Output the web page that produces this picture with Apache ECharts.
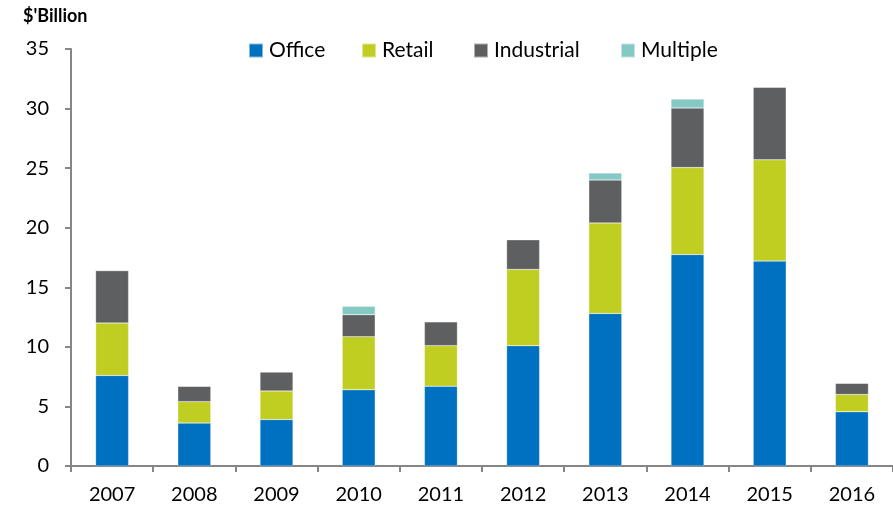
<!DOCTYPE html>
<html>
<head>
<meta charset="utf-8">
<script src="https://cdn.jsdelivr.net/npm/echarts@6/dist/echarts.min.js"></script>
<style>
  html, body { margin: 0; padding: 0; background: #fff; }
  #main { width: 893px; height: 509px; }
</style>
</head>
<body>
<div id="main"></div>
<script>
var years = ['2007', '2008', '2009', '2010', '2011', '2012', '2013', '2014', '2015', '2016'];
var office = [7.6, 3.6, 3.9, 6.4, 6.7, 10.1, 12.8, 17.75, 17.2, 4.55];
var retail = [4.4, 1.8, 2.4, 4.45, 3.4, 6.4, 7.6, 7.3, 8.5, 1.45];
var industrial = [4.4, 1.3, 1.6, 1.85, 2.0, 2.5, 3.6, 5.0, 6.1, 0.95];
var multiple = [0, 0, 0, 0.7, 0, 0, 0.6, 0.75, 0, 0];

var seriesNames = ['Office', 'Retail', 'Industrial', 'Multiple'];
var seriesColors = ['#0070C0', '#C0CD21', '#5E5F61', '#84C9C4'];

var font = 'Lato, "Liberation Sans", sans-serif';
var axisGrey = '#868686';

var chart = echarts.init(document.getElementById('main'));

function bar(name, data, color) {
  return {
    name: name,
    type: 'bar',
    stack: 'total',
    barWidth: 33,
    data: data,
    itemStyle: { color: color, borderColor: 'rgba(255,255,255,0.5)', borderWidth: 0.5 }
  };
}

// one legend per item so each sits where the reference puts it
var legendLeft = [243, 356, 468, 615];
var legends = seriesNames.map(function (n, i) {
  return {
    top: 35,
    left: legendLeft[i],
    itemWidth: 14,
    itemHeight: 14,
    itemGap: 0,
    icon: 'rect',
    textStyle: { fontFamily: font, fontSize: 21, color: '#000', padding: [0, 0, 0, 1] },
    data: [n]
  };
});

var option = {
  animation: false,
  textStyle: { fontFamily: font },
  title: {
    text: "$'Billion",
    left: 18,
    top: 2,
    textStyle: { fontFamily: font, fontSize: 18, fontWeight: 'bold', color: '#000' }
  },
  legend: legends,
  grid: { left: 71, right: -1, top: 49, bottom: 43 },
  xAxis: {
    type: 'category',
    data: years,
    boundaryGap: true,
    axisLine: { lineStyle: { color: axisGrey, width: 2 } },
    axisTick: { show: true, length: 6, lineStyle: { color: axisGrey, width: 2 } },
    axisLabel: { fontFamily: font, fontSize: 20, color: '#000', margin: 19 }
  },
  yAxis: {
    type: 'value',
    min: 0,
    max: 35,
    interval: 5,
    splitLine: { show: false },
    axisLine: { show: true, lineStyle: { color: axisGrey, width: 2 } },
    axisTick: { show: true, length: 6, lineStyle: { color: axisGrey, width: 2 } },
    axisLabel: { fontFamily: font, fontSize: 20, color: '#000', margin: 22 }
  },
  series: seriesNames.map(function (n, i) {
    return bar(n, [office, retail, industrial, multiple][i], seriesColors[i]);
  })
};

chart.setOption(option);
</script>
</body>
</html>
